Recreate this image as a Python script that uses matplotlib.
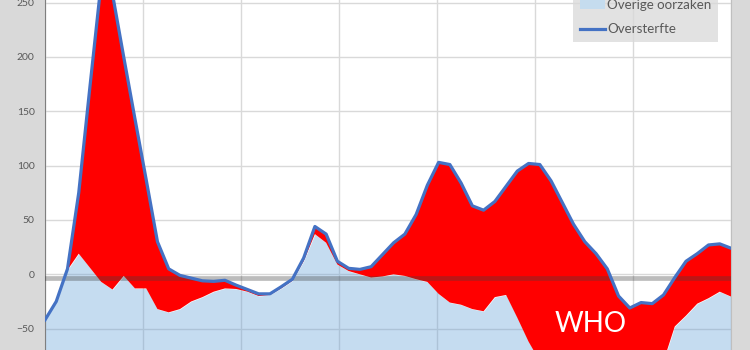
import matplotlib.pyplot as plt
import numpy as np
from matplotlib.patches import Patch
from matplotlib.lines import Line2D

plt.rcParams['font.family'] = ['Lato', 'DejaVu Sans']

# weekly values
oversterfte = [-42, -25, 5, 75, 173, 269, 258, 200, 143, 87,
               30, 5, -1, -3.5, -6, -6.5, -5.5, -10, -14, -18,
               -18, -11.5, -4.5, 15, 44, 37, 12, 5.5, 4.5, 7,
               18, 29, 37, 55, 82, 103, 101, 84, 63, 59,
               67, 81, 95, 102, 101, 86, 66, 46, 30, 19,
               5, -20, -31, -26, -27, -19, -3, 12, 19, 27,
               28, 24]
overige = [-42, -25, 4, 19, 6, -7, -14, -1.5, -13, -13,
           -32, -35, -32, -25, -21, -16, -13, -13.5, -16, -20,
           -19, -13, -6, 12, 37, 29, 9, 3, 0, -3,
           -2, 0, -1.5, -4.5, -7, -18, -26, -28, -32, -34,
           -21, -19, -40, -62, -80, -95, -105, -112, -118, -120,
           -118, -112, -105, -98, -90, -80, -48, -38, -27, -22,
           -16, -20.5]
legend_labels = ['Overige oorzaken', 'Oversterfte']
y_ticks = [-50, 0, 50, 100, 150, 200, 250]

x = np.arange(len(oversterfte))
total = np.array(oversterfte)
rest = np.array(overige)
ymin, ymax = -150, 300

W, H = 750, 350
fig = plt.figure(figsize=(W / 100, H / 100), dpi=100, facecolor='#d9d9d9')
# plot area runs past the top and bottom edge of the picture (cropped chart)
px = 1.0867  # pixels per unit
ax = fig.add_axes([45 / W, (75.7 + ymin * px) / H, 686 / W, (ymax - ymin) * px / H])
ax.set_facecolor('white')

# area chart fills from the bottom of the value axis
ax.fill_between(x, ymin, rest, color='#5b9bd5', alpha=0.35, lw=0, zorder=2)
ax.fill_between(x, rest, total, color='#ff0000', lw=0, zorder=2)
ax.axhline(-3, color='#404040', alpha=0.35, lw=3.4, zorder=3)
ax.plot(x, total, color='#4472c4', lw=2.3, zorder=4, solid_joinstyle='round')

ax.text(48.5, -46, 'WHO', color='white', fontsize=20, ha='center', va='center', zorder=5)

ax.set_xlim(0, len(x) - 1)
ax.set_ylim(ymin, ymax)
ax.set_xticks(np.linspace(0, len(x) - 1, 8))
ax.set_yticks(y_ticks)
ax.grid(True, color='#d9d9d9', lw=1)
ax.set_axisbelow(True)
ax.tick_params(axis='x', length=0, labelbottom=False)
ax.tick_params(axis='y', length=0, pad=7.5, labelsize=7.5, labelcolor='#595959')
for s in ['top', 'bottom']:
    ax.spines[s].set_visible(False)
ax.spines['left'].set_color('#7f7f7f')
ax.spines['right'].set_color('#bfbfbf')

handles = [Patch(facecolor='#c5dcee', edgecolor='none'),
           Line2D([], [], color='#4472c4', lw=2.3)]
leg = ax.legend(handles, legend_labels, loc='lower right',
                bbox_to_anchor=(718 / W, 1 - 42 / H), bbox_transform=fig.transFigure,
                fancybox=False, facecolor='#d9d9d9', edgecolor='none', framealpha=0.75,
                fontsize=9.6, labelcolor='#595959', handlelength=1.9, handletextpad=0.15,
                labelspacing=0.9, borderpad=0.5, borderaxespad=0)
leg.set_zorder(6)

fig.savefig('out.png', dpi=100, facecolor=fig.get_facecolor())
